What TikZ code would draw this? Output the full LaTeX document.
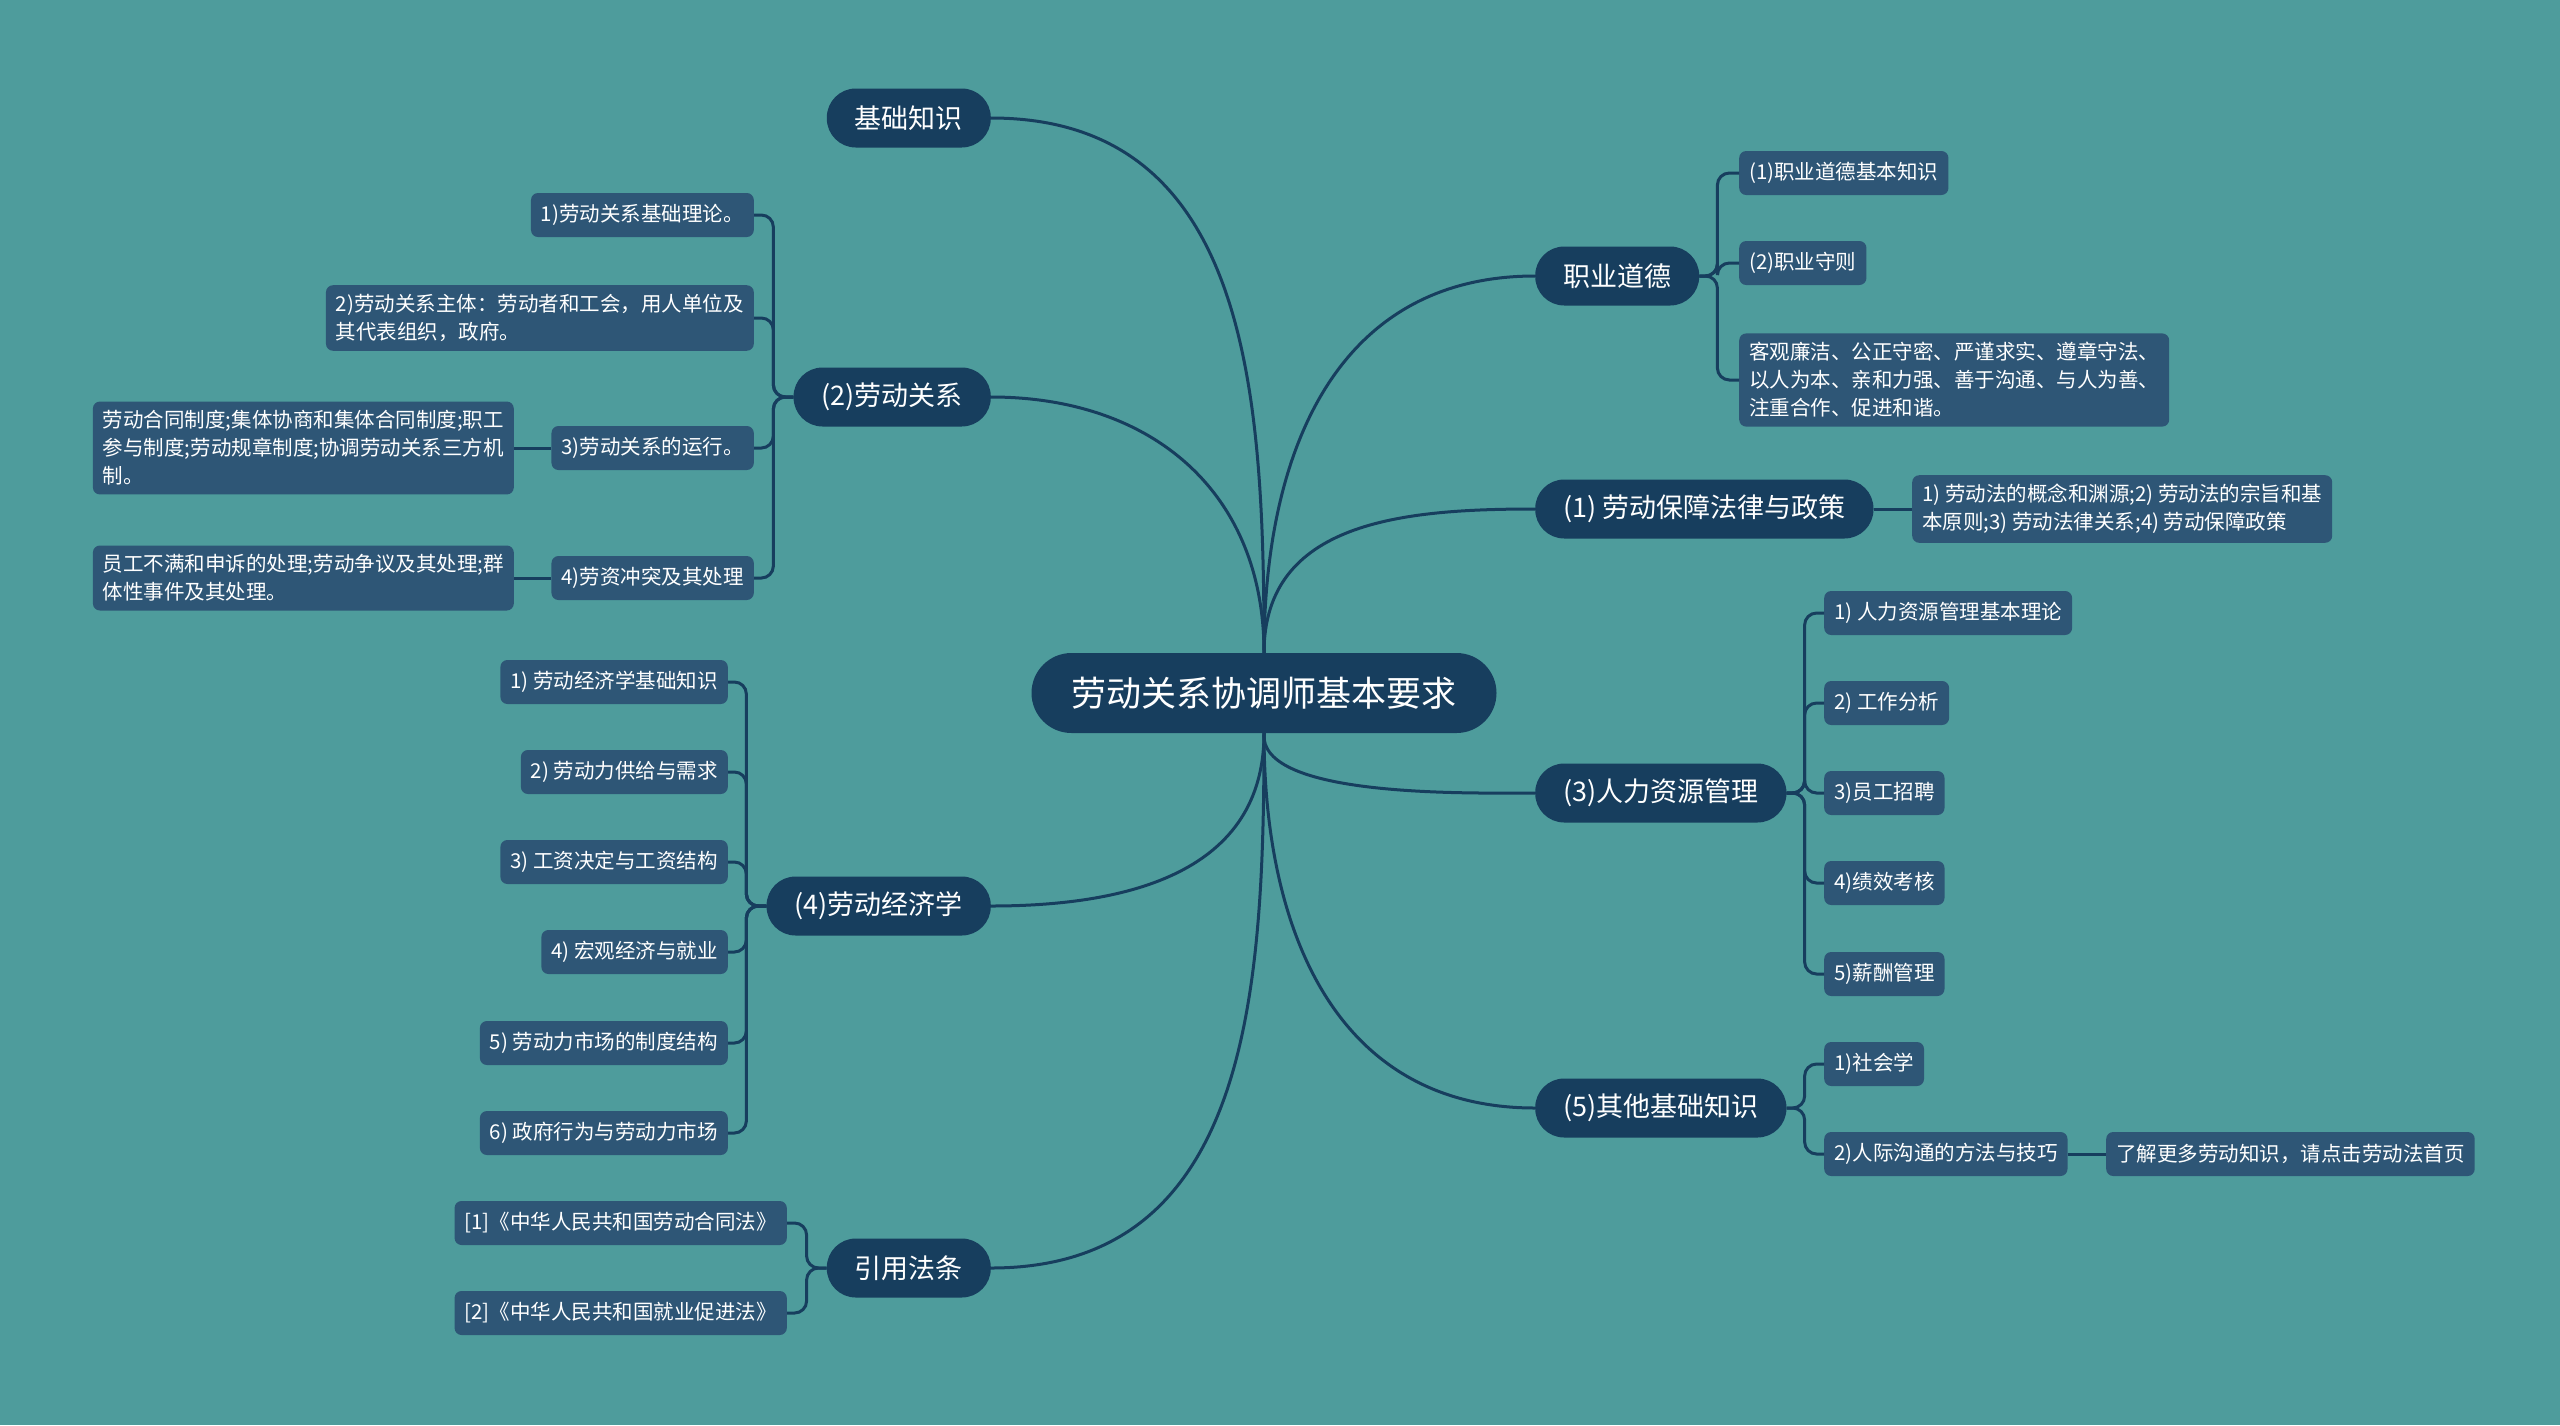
\documentclass[tikz,border=0pt]{standalone}
\usepackage{fontspec}
\setmainfont{Noto Sans CJK SC}
\usepackage{tikz}
\usetikzlibrary{positioning,calc}
\definecolor{mmbg}{HTML}{4E9C9C}
\definecolor{mmnavy}{HTML}{173E5E}
\definecolor{mmblue}{HTML}{2E5676}
\tikzset{
  hub/.style={rectangle,rounded corners=40pt,fill=mmnavy,text=white,
              minimum height=80pt,inner xsep=40pt,font=\fontsize{35}{42}\selectfont},
  topic/.style={rectangle,rounded corners=29pt,fill=mmnavy,text=white,
                minimum height=59pt,inner xsep=28pt,font=\fontsize{27}{32}\selectfont},
  leaf/.style={rectangle,rounded corners=7pt,fill=mmblue,text=white,
               minimum height=44pt,inner xsep=10pt,inner ysep=9pt,align=left,
               font=\fontsize{20.5}{28}\selectfont},
  link/.style={draw=mmnavy,line width=3pt},
  branch/.style={link,rounded corners=12pt},
}
\begin{document}
\begin{tikzpicture}[x=1pt,y=-1pt]
  \fill[mmbg] (0,0) rectangle (2560,1425);
  \useasboundingbox (0,0) rectangle (2560,1425);

  \node[hub] (root) at (1264,693) {劳动关系协调师基本要求};

  \node[topic,anchor=east] (jczs) at (991,118) {基础知识};
  \node[topic,anchor=east] (ldgx) at (991,397) {(2)劳动关系};
  \node[topic,anchor=east] (ldjj) at (991,906) {(4)劳动经济学};
  \node[topic,anchor=east] (yyft) at (991,1268) {引用法条};
  \node[topic,anchor=west] (zydd) at (1535,276) {职业道德};
  \node[topic,anchor=west] (ldbz) at (1535,509) {(1) 劳动保障法律与政策};
  \node[topic,anchor=west] (rlzy) at (1535,793) {(3)人力资源管理};
  \node[topic,anchor=west] (qtjc) at (1535,1108) {(5)其他基础知识};

  \node[leaf,anchor=east] (gx1) at (754,215) {1)劳动关系基础理论。};
  \node[leaf,anchor=east] (gx2) at (754,318) {2)劳动关系主体：劳动者和工会，用人单位及\\其代表组织，政府。};
  \node[leaf,anchor=east] (gx3) at (754,448) {3)劳动关系的运行。};
  \node[leaf,anchor=east] (gx4) at (754,578) {4)劳资冲突及其处理};
  \node[leaf,anchor=east] (gx3a) at (514,448) {劳动合同制度;集体协商和集体合同制度;职工\\参与制度;劳动规章制度;协调劳动关系三方机\\制。};
  \node[leaf,anchor=east] (gx4a) at (514,578) {员工不满和申诉的处理;劳动争议及其处理;群\\体性事件及其处理。};

  \node[leaf,anchor=east] (jj1) at (728,682) {1) 劳动经济学基础知识};
  \node[leaf,anchor=east] (jj2) at (728,772) {2) 劳动力供给与需求};
  \node[leaf,anchor=east] (jj3) at (728,862) {3) 工资决定与工资结构};
  \node[leaf,anchor=east] (jj4) at (728,952) {4) 宏观经济与就业};
  \node[leaf,anchor=east] (jj5) at (728,1043) {5) 劳动力市场的制度结构};
  \node[leaf,anchor=east] (jj6) at (728,1133) {6) 政府行为与劳动力市场};

  \node[leaf,anchor=east] (ft1) at (787,1223) {[1]《中华人民共和国劳动合同法》};
  \node[leaf,anchor=east] (ft2) at (787,1313) {[2]《中华人民共和国就业促进法》};

  \node[leaf,anchor=west] (dd1) at (1739,173) {(1)职业道德基本知识};
  \node[leaf,anchor=west] (dd2) at (1739,263) {(2)职业守则};
  \node[leaf,anchor=west] (dd3) at (1739,380) {客观廉洁、公正守密、严谨求实、遵章守法、\\以人为本、亲和力强、善于沟通、与人为善、\\注重合作、促进和谐。};

  \node[leaf,anchor=west] (bz1) at (1912,509) {1) 劳动法的概念和渊源;2) 劳动法的宗旨和基\\本原则;3) 劳动法律关系;4) 劳动保障政策};

  \node[leaf,anchor=west] (rl1) at (1824,613) {1) 人力资源管理基本理论};
  \node[leaf,anchor=west] (rl2) at (1824,703) {2) 工作分析};
  \node[leaf,anchor=west] (rl3) at (1824,793) {3)员工招聘};
  \node[leaf,anchor=west] (rl4) at (1824,883) {4)绩效考核};
  \node[leaf,anchor=west] (rl5) at (1824,974) {5)薪酬管理};

  \node[leaf,anchor=west] (qt1) at (1824,1064) {1)社会学};
  \node[leaf,anchor=west] (qt2) at (1824,1154) {2)人际沟通的方法与技巧};
  \node[leaf,anchor=west] (qt2a) at (2106,1154) {了解更多劳动知识，请点击劳动法首页};

  \draw[link] (root.north) to[out=90,in=0,looseness=1.1] (jczs.east);
  \draw[link] (root.north) to[out=90,in=0,looseness=1.1] (ldgx.east);
  \draw[link] (root.south) to[out=-90,in=0,looseness=1.1] (ldjj.east);
  \draw[link] (root.south) to[out=-90,in=0,looseness=1.1] (yyft.east);
  \draw[link] (root.north) to[out=90,in=180,looseness=1.1] (zydd.west);
  \draw[link] (root.north) to[out=90,in=180,looseness=1.1] (ldbz.west);
  \draw[link] (root.south) to[out=-95,in=180,looseness=0.6] (rlzy.west);
  \draw[link] (root.south) to[out=-90,in=180,looseness=1.1] (qtjc.west);

  \foreach \c in {gx1,gx2,gx3,gx4}
    \draw[branch] (ldgx.west) -- ++(-20,0) |- (\c.east);
  \foreach \c in {jj1,jj2,jj3,jj4,jj5,jj6}
    \draw[branch] (ldjj.west) -- ++(-20,0) |- (\c.east);
  \foreach \c in {ft1,ft2}
    \draw[branch] (yyft.west) -- ++(-20,0) |- (\c.east);
  \foreach \c in {dd1,dd2,dd3}
    \draw[branch] (zydd.east) -- ++(18,0) |- (\c.west);
  \foreach \c in {rl1,rl2,rl3,rl4,rl5}
    \draw[branch] (rlzy.east) -- ++(18,0) |- (\c.west);
  \foreach \c in {qt1,qt2}
    \draw[branch] (qtjc.east) -- ++(18,0) |- (\c.west);
  \draw[link] (gx3.west) -- (gx3a.east);
  \draw[link] (gx4.west) -- (gx4a.east);
  \draw[link] (ldbz.east) -- (bz1.west);
  \draw[link] (qt2.east) -- (qt2a.west);
\end{tikzpicture}
\end{document}
